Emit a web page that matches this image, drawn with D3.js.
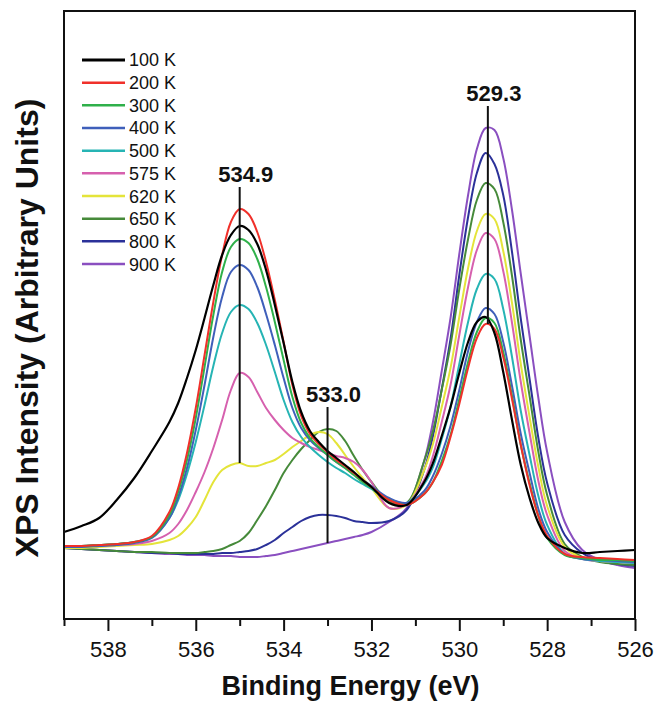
<!DOCTYPE html>
<html><head><meta charset="utf-8">
<script src="https://cdn.jsdelivr.net/npm/d3@7"></script>
<style>
body{margin:0;background:#fff}
svg{display:block}
text{font-family:"Liberation Sans",Arial,Helvetica,sans-serif;fill:#111}
</style>
</head><body>
<svg id="chart" width="656" height="702"></svg>
<script>
// Binding energy grid (eV)
const energies = [539,538.6,538.2,537.8,537.4,537.0,536.6,536.4,536.2,536.0,535.8,535.6,535.4,535.2,535.0,534.8,534.6,534.4,534.2,534.0,533.8,533.6,533.4,533.2,533.0,532.8,532.6,532.4,532.2,532.0,531.6,531.2,530.8,530.6,530.4,530.2,530.0,529.8,529.6,529.4,529.2,529.0,528.8,528.6,528.4,528.2,528.0,527.6,527.2,526.8,526.4,526.0];

const temperatures = ["100 K","200 K","300 K","400 K","500 K","575 K","620 K","650 K","800 K","900 K"];
const lineColors = ["#000000","#f0302a","#2fb04a","#3f5fba","#26b4b4","#d660ae","#e4e43a","#468a3a","#2b3199","#8a4fc0"];

// XPS intensity (arbitrary units) for each temperature
const i100 = [87,93,101,119,141,168,197,216,241,269,301,334,364,384,393,389,375,349,314,276,237,207,188,177,168,161,154,147,139,132,116,114,137,156,183,212,246,277,297,302,286,247,199,154,121,96,81,71,66,67,68,69];
const i200 = [73,73,74,75,77,83,107,131,166,211,264,317,364,397,410,405,387,357,319,277,234,203,185,175,167,159,153,146,139,132,119,114,125,137,154,182,215,251,281,295,290,262,220,174,134,103,83,65,62,61,60,59];
const i300 = [73,73,74,75,77,82,104,127,159,201,252,304,347,372,380,376,360,332,297,259,222,196,181,172,164,157,151,144,137,131,119,114,125,137,158,184,220,257,287,301,296,267,223,174,136,103,81,64,61,59,59,58];
const i400 = [72,72,73,74,76,81,101,122,151,189,234,282,322,347,354,349,332,305,274,241,211,191,179,171,164,157,151,145,139,133,121,116,128,143,165,193,229,268,297,311,305,277,233,185,146,110,87,65,60,59,58,57];
const i500 = [73,73,74,75,77,82,101,119,145,177,214,253,286,307,314,310,296,274,247,219,197,182,172,164,157,151,146,140,135,130,120,116,135,152,180,212,255,297,330,345,340,310,262,208,164,123,94,65,60,58,57,56];
const i575 = [73,73,73,74,75,78,86,95,109,127,147,171,199,229,246,242,227,211,199,189,181,176,172,169,166,163,161,157,149,137,111,115,139,163,197,234,284,332,369,386,380,348,296,237,186,138,104,68,60,58,57,56];
const i620 = [71,71,72,73,74,75,79,83,91,102,119,137,149,154,156,153,153,156,159,165,172,178,184,187,185,176,164,152,141,131,111,114,149,175,212,251,302,351,388,405,400,368,316,255,202,152,113,72,61,58,57,56];
const i650 = [71,70,69,68,67,67,66,66,66,66,67,68,70,74,78,86,99,113,129,146,159,170,179,187,190,188,178,163,149,137,117,116,158,188,229,274,330,380,419,436,430,397,343,279,223,167,124,75,62,57,55,54];
const i800 = [71,70,69,68,67,66,66,65,65,65,65,65,66,66,67,68,70,74,79,86,92,98,102,104,104,103,101,98,97,96,98,109,149,183,230,280,344,402,446,466,455,424,367,300,240,181,136,84,66,58,55,53];
const i900 = [71,70,69,68,67,66,65,65,64,64,64,63,63,63,62,62,62,63,64,66,68,70,72,74,76,78,80,82,84,87,97,111,158,197,248,301,365,424,470,491,489,461,409,345,283,221,167,97,69,59,54,51];

const seriesValues = [i100,i200,i300,i400,i500,i575,i620,i650,i800,i900];

const xMajorTicks = [538,536,534,532,530,528,526];
const xMinorTicks = [539,537,535,533,531,529,527];

const peakLabels = ["534.9","533.0","529.3"];
const peakEnergies = [535.0,533.0,529.35];
// curve on which each marker line ends
const peakFloorSeries = ["620 K","900 K","200 K"];

const xTitle = "Binding Energy (eV)";
const yTitle = "XPS Intensity (Arbitrary Units)";

// ---------- drawing ----------
const svg = d3.select("#chart");
const L = 64, R = 635, T = 11, B = 619;

const x = d3.scaleLinear().domain([539, 526]).range([L, R]);
const y = d3.scaleLinear().domain([0, 608]).range([B, T]);

const line = d3.line()
  .x((d, i) => x(energies[i]))
  .y(d => y(d))
  .curve(d3.curveCatmullRom.alpha(0.5));

const plot = svg.append("g");
for (let k = seriesValues.length - 1; k >= 0; k--) {
  plot.append("path")
    .datum(seriesValues[k])
    .attr("d", line)
    .attr("fill", "none")
    .attr("stroke", lineColors[k])
    .attr("stroke-width", k === 0 ? 2.2 : 2)
    .attr("stroke-linejoin", "round");
}

// peak annotation lines
const nearestIndex = e => d3.minIndex(energies, v => Math.abs(v - e));
peakEnergies.forEach((e, j) => {
  const idx = nearestIndex(e);
  const vals = seriesValues.map(s => s[idx]);
  const top = y(d3.max(vals)) - 22;
  const bot = y(seriesValues[temperatures.indexOf(peakFloorSeries[j])][idx]);
  svg.append("line")
    .attr("x1", x(e)).attr("x2", x(e))
    .attr("y1", top).attr("y2", bot)
    .attr("stroke", "#111").attr("stroke-width", 2);
  svg.append("text")
    .attr("x", x(e) + 6).attr("y", top - 5)
    .attr("text-anchor", "middle")
    .attr("font-size", 22).attr("font-weight", "bold")
    .text(peakLabels[j]);
});

// frame
svg.append("rect")
  .attr("x", L).attr("y", T).attr("width", R - L).attr("height", B - T)
  .attr("fill", "none").attr("stroke", "#111").attr("stroke-width", 2);

// x axis
const major = d3.axisBottom(x).tickValues(xMajorTicks).tickSize(12).tickPadding(10).tickFormat(d3.format("d"));
const minor = d3.axisBottom(x).tickValues(xMinorTicks).tickSize(7).tickFormat("");
const gMinor = svg.append("g").attr("transform", `translate(0,${B})`).call(minor);
const gMajor = svg.append("g").attr("transform", `translate(0,${B})`).call(major);
[gMinor, gMajor].forEach(g => {
  g.select(".domain").remove();
  g.selectAll(".tick line").attr("stroke", "#111").attr("stroke-width", 2);
});
gMajor.selectAll(".tick text")
  .attr("font-size", 22)
  .attr("font-family", '"Liberation Sans",Arial,sans-serif')
  .attr("fill", "#111");

// axis titles
svg.append("text")
  .attr("x", (L + R) / 2 + 1).attr("y", 695)
  .attr("text-anchor", "middle")
  .attr("font-size", 27).attr("font-weight", "bold")
  .text(xTitle);
svg.append("text")
  .attr("transform", `translate(38,${(T + B) / 2 + 13}) rotate(-90)`)
  .attr("text-anchor", "middle")
  .attr("font-size", 32).attr("font-weight", "bold")
  .text(yTitle);

// legend
const legend = svg.append("g");
temperatures.forEach((t, k) => {
  const ly = 60 + k * 22.67;
  legend.append("line")
    .attr("x1", 82).attr("x2", 125).attr("y1", ly).attr("y2", ly)
    .attr("stroke", lineColors[k]).attr("stroke-width", k === 0 ? 3 : 2.5);
  legend.append("text")
    .attr("x", 129).attr("y", ly).attr("dy", "0.36em")
    .attr("font-size", 18)
    .text(t);
});
</script>
</body></html>
